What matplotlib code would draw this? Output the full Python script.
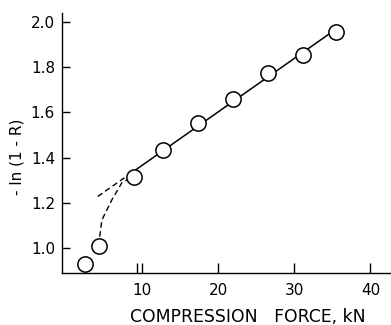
import numpy as np
import matplotlib
matplotlib.use("Agg")
import matplotlib.pyplot as plt

# Measured points: compression force (kN) vs -ln(1-R)
force = [2.5, 4.3, 8.9, 12.8, 17.3, 22.0, 26.6, 31.1, 35.5]
neg_ln = [0.93, 1.01, 1.315, 1.435, 1.555, 1.66, 1.775, 1.855, 1.955]

# Curved transition between the low-force points (dashed)
curve_force = [4.3, 4.74, 6.05, 7.37, 8.9]
curve_val = [1.01, 1.124, 1.213, 1.289, 1.315]

# Linear region and its backward extrapolation
lin_start = 2          # index of first point in the linear region
extrap_to = 4.2        # kN, end of dashed extrapolation

x_ticks = [10, 20, 30, 40]
y_ticks = [1.0, 1.2, 1.4, 1.6, 1.8, 2.0]
y_ticklabels = ["1.0", "1.2", "1.4", "1.6", "1.8", "2.0"]

fig = plt.figure(figsize=(3.91, 3.25), dpi=100)
ax = fig.add_axes([62 / 391, 52 / 325, 1 - 62 / 391, (273 - 13) / 325])

dash = (0, (4, 2.5))

# Straight-line fit over the linear region
xs = np.array(force[lin_start:])
ys = np.array(neg_ln[lin_start:])
slope, intercept = np.polyfit(xs, ys, 1)
x_line = np.array([xs.min(), xs.max()])
ax.plot(x_line, slope * x_line + intercept, color="black", lw=1.1, zorder=2)

x_ext = np.array([extrap_to, xs.min()])
ax.plot(x_ext, slope * x_ext + intercept, color="black", lw=1.0,
        ls=dash, zorder=2)
ax.plot(curve_force, curve_val, color="black", lw=1.0, ls=dash, zorder=2)

ax.plot(force, neg_ln, ls="none", marker="o", ms=11, mfc="white",
        mec="black", mew=1.1, zorder=3)

ax.set_xlim(-0.5, 42.7)
ax.set_ylim(0.889, 2.04)

for side in ("top", "right"):
    ax.spines[side].set_visible(False)
for side in ("left", "bottom"):
    ax.spines[side].set_linewidth(1.0)

ax.set_xticks(x_ticks)
ax.set_yticks(y_ticks)
ax.set_yticklabels(y_ticklabels)
ax.tick_params(axis="x", direction="in", length=7, width=1.0, pad=7,
               labelsize=11)
ax.tick_params(axis="y", direction="in", length=6, width=1.0, pad=5,
               labelsize=11)
# second short tick next to 10 kN
ax.set_xticks([9.4], minor=True)
ax.tick_params(axis="x", which="minor", direction="in", length=7, width=1.0)

ax.set_xlabel("COMPRESSION   FORCE, kN", fontsize=12.4, va="top")
ax.xaxis.set_label_coords(0.564, -0.135)
ax.set_ylabel("- ln (1 - R)", fontsize=11, va="center")
ax.yaxis.set_label_coords(-0.137, 0.446)

fig.savefig("out.png", dpi=100)
